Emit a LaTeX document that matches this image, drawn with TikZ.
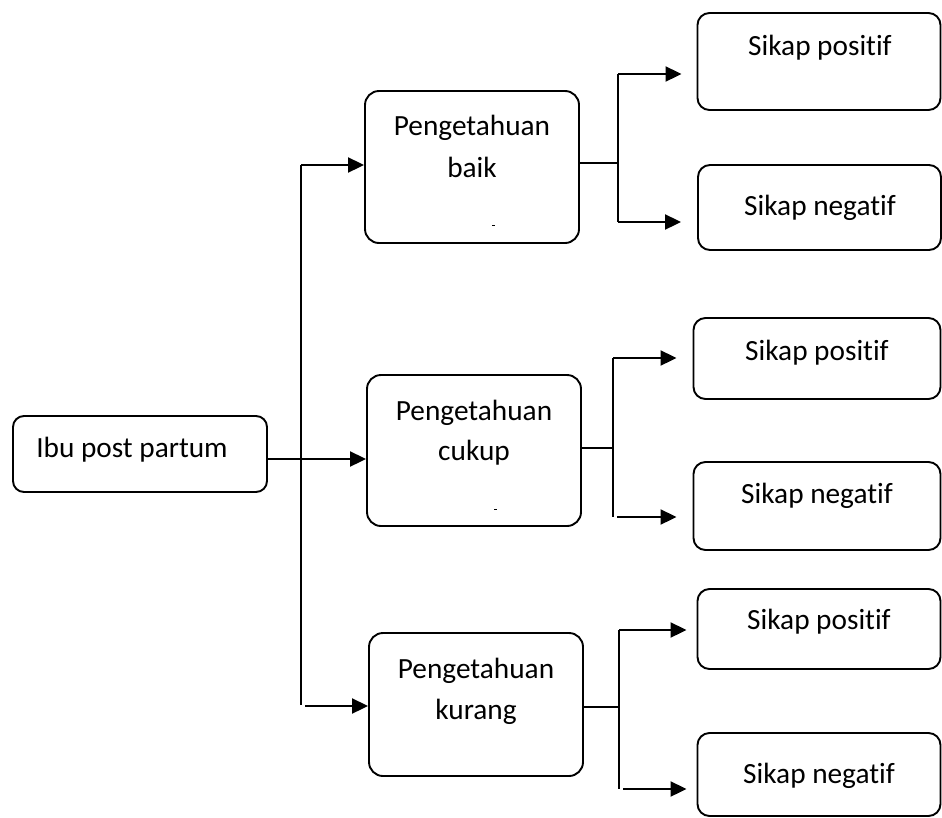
\documentclass[tikz,border=0pt]{standalone}
\usepackage{fontspec}
\setmainfont[Ligatures=NoCommon]{Carlito}
\usetikzlibrary{arrows.meta}
\begin{document}
\begin{tikzpicture}[x=1pt,y=-1pt,
  box/.style={draw, line width=1.9pt, rounded corners=14pt, inner sep=0pt},
  lbl/.style={font=\fontsize{29.3}{35}\selectfont, anchor=base, inner sep=0pt},
  conn/.style={line width=2pt},
  thinconn/.style={line width=1.5pt},
  arr/.style={line width=2pt, -{Triangle[length=16pt,width=15pt]}}]
\useasboundingbox (0,0) rectangle (942,817);
% boxes
\node[box, rounded corners=11pt, minimum width=254pt, minimum height=76pt] (ibu) at (140,454) {};
\node[box, minimum width=214pt, minimum height=152pt] (baik) at (472,167) {};
\node[box, minimum width=214pt, minimum height=151pt] (cukup) at (474,450.5) {};
\node[box, minimum width=214pt, minimum height=143pt] (kurang) at (476,704.5) {};
\node[box, rounded corners=12pt, minimum width=243pt, minimum height=97pt] (sp1) at (819,61.5) {};
\node[box, rounded corners=12pt, minimum width=243pt, minimum height=85pt] (sn1) at (819.5,207.5) {};
\node[box, rounded corners=12pt, minimum width=247pt, minimum height=81pt] (sp2) at (817,358.5) {};
\node[box, rounded corners=12pt, minimum width=247pt, minimum height=88pt] (sn2) at (817,506) {};
\node[box, rounded corners=12pt, minimum width=243pt, minimum height=80pt] (sp3) at (819,629) {};
\node[box, rounded corners=12pt, minimum width=243pt, minimum height=83pt] (sn3) at (819,774.5) {};
% texts
\node[lbl] (tibu) at (132,457) {Ibu post partum};
\node[lbl] (tbaik1) at (472,135) {Pengetahuan};
\node[lbl] (tbaik2) at (472,177) {baik};
\node[lbl] (tcukup1) at (474,420) {Pengetahuan};
\node[lbl] (tcukup2) at (474,460) {cukup};
\node[lbl] (tkurang1) at (476,678) {Pengetahuan};
\node[lbl] (tkurang2) at (476,719) {kurang};
\node[lbl] (tsp1) at (820,55) {Sikap positif};
\node[lbl] (tsn1) at (820,215) {Sikap negatif};
\node[lbl] (tsp2) at (817,360) {Sikap positif};
\node[lbl] (tsn2) at (817,503) {Sikap negatif};
\node[lbl] (tsp3) at (819,629) {Sikap positif};
\node[lbl] (tsn3) at (819,783) {Sikap negatif};
% small marks
\draw[line width=1pt] (492,225) -- (495,225);
\draw[line width=1pt] (494,509) -- (497,509);
% left connectors
\coordinate (vtop) at (301,165);
\coordinate (vbot) at (301,705);
\coordinate (vmid) at (301,459);
\coordinate (kin) at (305,706);
\draw[conn] (vtop) -- (vbot);
\draw[arr] (vtop) -- (baik.west |- vtop);
\draw[arr] (ibu.east |- vmid) -- (cukup.west |- vmid);
\draw[arr] (kin) -- (kurang.west |- kin);
% top right branch
\coordinate (b1) at (618,163);
\coordinate (b1t) at (618,74);
\coordinate (b1b) at (618,222);
\draw[thinconn] (baik.east |- b1) -- (b1);
\draw[conn] (b1t) -- (b1b);
\draw[arr, shorten >=15pt] (b1t) -- (sp1.west |- b1t);
\draw[arr, shorten >=16pt] (b1b) -- (sn1.west |- b1b);
% middle right branch
\coordinate (b2) at (613,448);
\coordinate (b2t) at (613,358);
\coordinate (b2b) at (613,517);
\coordinate (b2s) at (617,517);
\draw[thinconn] (cukup.east |- b2) -- (b2);
\draw[conn] (b2t) -- (b2b);
\draw[arr, shorten >=16pt] (b2t) -- (sp2.west |- b2t);
\draw[arr, shorten >=16pt] (b2s) -- (sn2.west |- b2s);
% bottom right branch
\coordinate (b3) at (619,707);
\coordinate (b3t) at (619,630);
\coordinate (b3b) at (619,789);
\coordinate (b3s) at (623,789);
\draw[thinconn] (kurang.east |- b3) -- (b3);
\draw[conn] (b3t) -- (b3b);
\draw[arr, shorten >=10pt] (b3t) -- (sp3.west |- b3t);
\draw[arr, shorten >=10pt] (b3s) -- (sn3.west |- b3s);
\end{tikzpicture}
\end{document}
